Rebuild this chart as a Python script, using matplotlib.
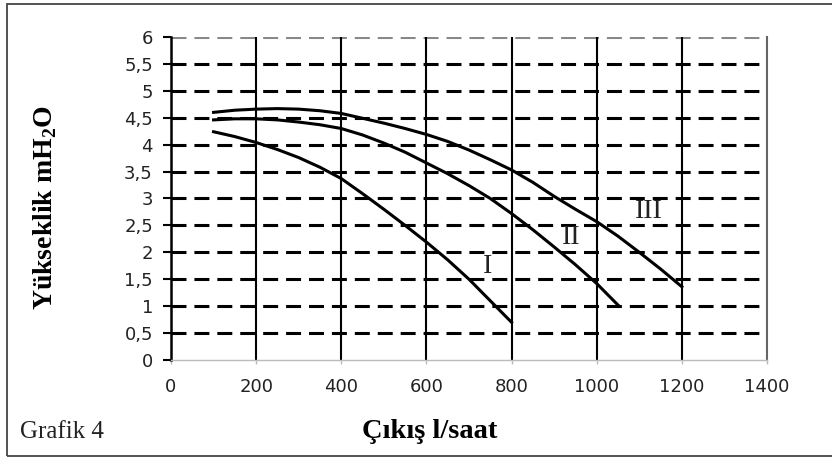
import matplotlib.pyplot as plt
import numpy as np
from matplotlib.patches import Rectangle

plt.rcParams["mathtext.fontset"] = "custom"
plt.rcParams["mathtext.rm"] = "Liberation Serif"
plt.rcParams["mathtext.bf"] = "Liberation Serif:bold"

# pump curves: flow (l/saat) vs head (mH2O)
flow_1 = [100, 150, 200, 250, 300, 350, 400, 450, 500, 550, 600, 650, 700, 750, 800]
head_1 = [4.24, 4.15, 4.04, 3.91, 3.76, 3.58, 3.37, 3.09, 2.8, 2.5, 2.19, 1.86, 1.5, 1.1, 0.7]

flow_2 = [100, 150, 200, 250, 300, 350, 400, 450, 500, 550, 600, 650, 700, 750,
          800, 850, 900, 950, 1000, 1050]
head_2 = [4.46, 4.48, 4.48, 4.46, 4.42, 4.37, 4.3, 4.18, 4.03, 3.86, 3.66, 3.46, 3.24, 3.0,
          2.72, 2.42, 2.1, 1.77, 1.42, 1.02]

flow_3 = [100, 150, 200, 250, 300, 350, 400, 450, 500, 550, 600, 650, 700, 750,
          800, 850, 900, 950, 1000, 1050, 1100, 1150, 1200]
head_3 = [4.6, 4.64, 4.66, 4.67, 4.66, 4.63, 4.58, 4.49, 4.4, 4.3, 4.19, 4.06, 3.9, 3.72,
          3.53, 3.3, 3.04, 2.8, 2.57, 2.3, 2.0, 1.69, 1.36]

curve_names = ["I", "II", "III"]
label_pos = [(744, 1.73), (941, 2.27), (1122, 2.75)]

x_ticks = [0, 200, 400, 600, 800, 1000, 1200, 1400]
y_ticks = np.arange(0, 6.01, 0.5)
y_tick_labels = ["0", "0,5", "1", "1,5", "2", "2,5", "3", "3,5", "4", "4,5", "5", "5,5", "6"]

fig = plt.figure(figsize=(8.32, 4.59), dpi=100)
ax = fig.add_axes([0.2055, 0.2157, 0.7164, 0.7037])

# dashed horizontal grid, solid vertical grid
for y in y_ticks[1:]:
    col = "#888888" if y == 6 else "black"
    ax.axhline(y, color=col, lw=2.2, ls=(0, (4.9, 2.6)), zorder=1)
for x in x_ticks[1:-1]:
    ax.axvline(x, color="black", lw=1.5, zorder=1)

for fl, hd in [(flow_1, head_1), (flow_2, head_2), (flow_3, head_3)]:
    ax.plot(fl, hd, color="black", lw=2.2, zorder=3, solid_joinstyle="round")

for name, (lx, ly) in zip(curve_names, label_pos):
    ax.text(lx, ly, name, family="Liberation Serif", fontsize=20,
            ha="center", va="center", color="#222222", zorder=4)

ax.set_xlim(0, 1400)
ax.set_ylim(0, 6)
ax.set_xticks(x_ticks)
ax.set_yticks(y_ticks)
ax.set_yticklabels(y_tick_labels)

ax.spines["top"].set_visible(False)
ax.spines["left"].set_linewidth(1.8)
ax.spines["right"].set_color("#666666")
ax.spines["right"].set_linewidth(1.5)
ax.spines["bottom"].set_color("#bbbbbb")
ax.spines["bottom"].set_linewidth(1.0)

ax.tick_params(axis="y", direction="out", length=6, width=1.5, pad=7,
               labelsize=13, labelcolor="#222222")
ax.tick_params(axis="x", direction="out", length=3, width=1, color="#bbbbbb",
               pad=10, labelsize=13, labelcolor="#222222")

fig.text(0.054, 0.547, "Yükseklik mH$_\\mathbf{2}$O", rotation=90,
         family="Liberation Serif", fontweight="bold", fontsize=20,
         ha="center", va="center")
fig.text(0.516, 0.059, "Çıkış l/saat", family="Liberation Serif",
         fontweight="bold", fontsize=20.5, ha="center", va="center")
fig.text(0.024, 0.059, "Grafik 4", family="Liberation Serif",
         fontsize=18, ha="left", va="center", color="#222222")

# outer frame
fig.add_artist(Rectangle((0.009, 0.007), 1.1, 0.985, transform=fig.transFigure,
                         fill=False, edgecolor="#444444", lw=1.3))

fig.savefig("out.png", dpi=100)
